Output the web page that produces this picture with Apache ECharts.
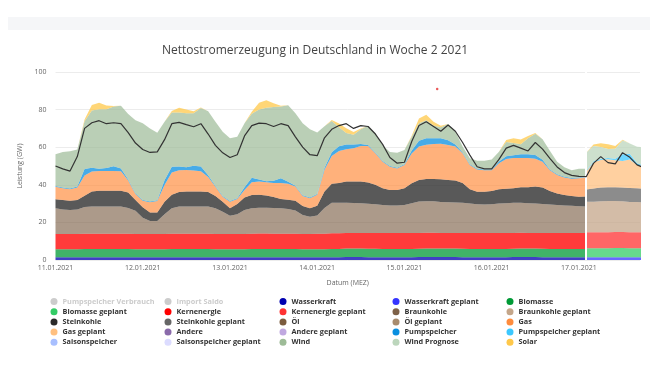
<!DOCTYPE html>
<html><head><meta charset="utf-8">
<script src="https://cdn.jsdelivr.net/npm/echarts@6/dist/echarts.min.js"></script>
<style>html,body{margin:0;padding:0;background:#fff}#c{width:660px;height:366px}</style>
</head><body><div id="c"></div>
<script>
// ---- time grid (2-hour steps, local time) ----
const START = new Date(2021, 0, 11, 0, 0, 0).getTime();
const AXIS_END = new Date(2021, 0, 17, 16, 48, 0).getTime();
const STEP_MS = 2 * 3600000;
const times = [];
for (let i = 0; i < 82; i++) times.push(START + i * STEP_MS);
const actualTimes = times.slice(0, 74);   // 11.01 00:00 .. 17.01 02:00
const planTimes = times.slice(73, 82);    // 17.01 02:00 .. 17.01 18:00

// ---- actual generation (GW), 12 values per day ----
const wasserkraft = [
 1.4,1.4,1.4,1.4,1.5,1.5,1.5,1.5,1.5,1.5,1.5,1.4,
 1.4,1.4,1.4,1.4,1.5,1.5,1.5,1.5,1.5,1.5,1.4,1.4,
 1.4,1.4,1.4,1.5,1.5,1.5,1.5,1.5,1.5,1.5,1.4,1.4,
 1.4,1.4,1.5,1.5,1.6,1.6,1.6,1.5,1.5,1.5,1.5,1.5,
 1.5,1.5,1.6,1.6,1.6,1.6,1.6,1.6,1.5,1.5,1.5,1.5,
 1.5,1.5,1.5,1.6,1.6,1.6,1.6,1.5,1.5,1.5,1.5,1.5,
 1.5,1.5];
const biomasse = [
 4.3,4.3,4.3,4.3,4.4,4.4,4.4,4.4,4.4,4.4,4.3,4.3,
 4.3,4.3,4.3,4.3,4.4,4.4,4.4,4.4,4.4,4.4,4.3,4.3,
 4.3,4.3,4.3,4.4,4.4,4.4,4.4,4.4,4.4,4.3,4.3,4.3,
 4.3,4.3,4.4,4.4,4.5,4.5,4.5,4.5,4.5,4.4,4.4,4.4,
 4.4,4.4,4.4,4.5,4.5,4.5,4.5,4.5,4.5,4.4,4.4,4.4,
 4.4,4.4,4.4,4.4,4.5,4.5,4.5,4.5,4.4,4.4,4.4,4.4,
 4.4,4.4];
const kernenergie = [
 8.1,8.1,8.1,8.1,8.1,8.0,8.0,8.0,8.0,8.1,8.1,8.1,
 8.1,8.1,8.1,8.1,8.1,8.1,8.0,8.0,8.1,8.1,8.1,8.1,
 8.1,8.1,8.1,8.1,8.2,8.2,8.1,8.1,8.1,8.1,8.1,8.1,
 8.2,8.3,8.3,8.3,8.3,8.3,8.3,8.4,8.4,8.4,8.4,8.4,
 8.4,8.4,8.4,8.4,8.4,8.3,8.3,8.3,8.4,8.4,8.4,8.4,
 8.4,8.4,8.4,8.4,8.4,8.3,8.3,8.3,8.4,8.4,8.4,8.4,
 8.4,8.4];
const braunkohle = [
 13.7,13.1,12.8,13.1,14.2,14.5,14.5,14.5,14.5,14.5,13.7,12.4,
 8.7,6.9,6.9,10.6,13.5,14.5,14.5,14.5,14.5,14.5,13.7,11.9,
 9.8,10.6,12.8,13.5,13.7,13.7,13.7,13.5,13.1,12.4,10.1,9.2,
 9.8,13.7,16.3,16.2,16.0,15.9,15.8,15.5,15.2,14.9,14.7,14.7,
 15.0,15.9,16.7,16.7,16.7,16.5,16.3,16.2,16.1,15.7,15.3,15.2,
 15.3,15.7,15.9,16.0,15.9,15.8,15.7,15.5,15.2,14.9,14.7,14.5,
 14.3,14.2];
const steinkohle = [
 4.8,5.0,4.9,5.0,6.0,8.0,8.4,8.4,8.4,8.4,8.3,5.7,
 5.5,4.6,4.5,6.6,7.2,7.7,8.0,8.0,8.0,7.7,6.5,5.3,
 3.9,5.4,6.7,7.1,6.9,6.5,5.8,4.9,5.0,5.2,4.8,4.5,
 5.1,8.8,10.1,10.6,11.3,11.4,11.5,11.3,10.4,8.9,8.2,8.2,
 8.8,10.6,11.5,11.9,11.9,12.1,11.9,11.7,10.4,7.6,6.7,6.8,
 7.1,7.6,7.7,7.8,8.3,8.5,9.0,8.7,7.2,6.2,5.6,5.2,
 5.1,5.3];
const gas = [
 6.7,6.2,6.1,6.7,10.7,10.7,10.6,10.6,10.6,10.3,6.4,3.2,
 3.5,5.4,6.2,8.9,11.9,11.5,11.5,11.2,10.7,7.9,5.0,2.7,
 3.5,2.7,3.9,6.7,7.1,7.1,7.5,8.6,8.5,7.6,5.3,5.3,
 5.9,11.5,14.7,17.0,17.2,17.8,19.0,19.5,16.8,14.2,12.4,11.5,
 12.4,15.9,17.8,18.2,18.6,18.8,18.6,18.1,15.9,12.9,11.9,11.5,
 11.1,13.8,15.8,16.0,15.6,15.6,14.7,13.8,11.1,9.8,9.3,9.2,
 9.8,9.9];
const pumpspeicher = [
 0.4,0.4,0.4,0.5,3.5,2.0,1.2,1.5,2.5,1.5,0.5,0.4,
 0.4,0.4,0.4,2.5,3.0,2.0,1.5,2.5,2.5,1.0,0.4,0.4,
 0.4,0.4,1.5,2.5,1.0,0.5,1.2,2.5,1.0,0.4,0.4,0.4,
 0.4,1.0,2.0,2.5,2.5,2.0,1.0,0.5,0.4,0.4,0.4,0.4,
 0.4,1.5,3.0,3.5,3.0,3.0,2.5,1.0,0.4,0.4,0.4,0.4,
 0.4,1.0,1.5,1.5,2.0,2.0,2.0,1.0,0.4,0.4,0.4,0.4,
 0.4,0.4];
const wind = [
 16.8,18.9,19.9,19.7,25.4,30.4,31.6,31.3,31.7,33.4,34.9,38.9,
 40.8,38.9,35.9,31.2,28.9,28.8,28.7,28.0,31.2,34.0,34.2,34.1,
 33.3,32.7,34.0,34.0,37.3,39.1,39.2,38.2,40.7,38.6,38.3,36.3,
 32.7,22.1,16.7,10.1,6.2,5.1,7.9,10.2,10.3,8.4,7.4,8.0,
 7.6,7.4,9.4,9.5,6.8,5.8,8.7,6.9,3.2,3.2,4.2,4.6,
 5.3,5.2,7.6,6.6,5.3,8.5,11.4,10.9,9.9,6.7,5.0,4.2,
 4.6,4.5];
const solar = [
 0,0,0,0,1.0,3.0,3.5,2.0,0.3,0,0,0,
 0,0,0,0,0.8,2.5,2.0,1.0,0.2,0,0,0,
 0,0,0,1.0,3.5,4.0,2.0,0.3,0,0,0,0,
 0,0,0.5,2.0,2.5,1.5,0.3,0,0,0,0,0,
 0,0.5,2.5,3.0,2.0,0.8,0,0,0,0,0,0,
 0,0,1.0,2.5,2.5,1.2,0.3,0,0,0,0,0,
 0,0];
// black line (load), actual part
const lastActual = [
 50.0,48.5,47.3,55.0,70.0,73.0,74.1,72.5,73.0,72.5,67.8,62.2,
 58.8,57.2,57.5,64.0,72.5,73.2,72.0,70.9,72.5,67.0,61.0,57.0,
 54.5,56.0,66.0,71.5,72.8,72.5,71.0,72.5,71.5,65.5,60.0,56.0,
 55.5,65.0,69.5,71.5,72.5,70.0,71.5,71.0,67.0,61.5,54.5,51.5,
 52.0,63.0,71.5,73.5,71.0,68.5,71.8,68.5,62.5,55.8,49.6,48.5,
 48.5,53.5,59.5,61.0,59.5,58.0,62.5,59.0,54.0,49.5,46.5,45.0,
 44.5,44.3];

// ---- planned / forecast (17.01 02:00 .. 18:00) ----
const wasserkraftPlan = [1.4,1.4,1.4,1.5,1.5,1.5,1.4,1.4,1.4];
const biomassePlan    = [4.8,4.8,4.8,4.8,4.9,4.9,4.8,4.8,4.8];
const kernenergiePlan = [8.5,8.5,8.5,8.5,8.5,8.5,8.5,8.5,8.5];
const braunkohlePlan  = [16.3,16.3,16.5,16.6,16.5,16.3,16.1,16.1,15.9];
const steinkohlePlan  = [6.5,7.0,7.3,7.3,7.3,7.4,7.5,7.4,7.4];
const gasPlan         = [9.5,14.0,14.7,14.9,14.3,14.1,15.2,12.3,11.5];
const pumpPlan        = [0.5,0.5,0.5,0.6,0.8,3.5,3.0,1.0,0.6];
const windPrognose    = [9.5,8.2,6.4,4.9,5.4,7.3,5.5,8.8,9.9];
const solarPlan       = [0,0.8,2.0,2.5,1.5,0.5,0,0,0];
const lastPlan        = [44.3,51.4,55.0,51.8,51.1,57.1,54.6,50.6,49.0];

const strayPoint = [[new Date(2021, 0, 15, 9, 0).getTime(), 91]];

const yTicks = [0, 20, 40, 60, 80, 100];

const legendCols = [
 ['Pumpspeicher Verbrauch','Biomasse geplant','Steinkohle','Gas geplant','Saisonspeicher'],
 ['Import Saldo','Kernenergie','Steinkohle geplant','Andere','Saisonspeicher geplant'],
 ['Wasserkraft','Kernenergie geplant','Öl','Andere geplant','Wind'],
 ['Wasserkraft geplant','Braunkohle','Öl geplant','Pumpspeicher','Wind Prognose'],
 ['Biomasse','Braunkohle geplant','Gas','Pumpspeicher geplant','Solar']
];

const COLORS = {
 'Pumpspeicher Verbrauch':'#7fa7d8','Import Saldo':'#999999',
 'Wasserkraft':'#0000b0','Wasserkraft geplant':'#3535ff',
 'Biomasse':'#009a36','Biomasse geplant':'#33cc66',
 'Kernenergie':'#ff0000','Kernenergie geplant':'#ff3333',
 'Braunkohle':'#7d6148','Braunkohle geplant':'#c4a68a',
 'Steinkohle':'#2a2a2a','Steinkohle geplant':'#666666',
 'Öl':'#7b5c3e','Öl geplant':'#a88c6e',
 'Gas':'#ff8c3c','Gas geplant':'#ffc080',
 'Andere':'#8a6aaa','Andere geplant':'#c0a8e0',
 'Pumpspeicher':'#0a8fe0','Pumpspeicher geplant':'#3cc8ff',
 'Saisonspeicher':'#a8bfff','Saisonspeicher geplant':'#dcdcff',
 'Wind':'#9dbb97','Wind Prognose':'#bcd6bc','Solar':'#ffc84a'
};

function pairs(ts, vals) { return vals.map((v, i) => [ts[i], v]); }
function area(name, vals, ts, stack, op) {
  return { name, type:'line', stack, data: pairs(ts, vals), symbol:'none', showSymbol:false,
    lineStyle:{width:0}, itemStyle:{color:COLORS[name]},
    areaStyle:{color:COLORS[name], opacity:op}, emphasis:{disabled:true}, z:2, silent:true };
}
function empty(name) {
  return { name, type:'line', data:[], symbol:'none', itemStyle:{color:COLORS[name]}, lineStyle:{width:0} };
}

const series = [
  empty('Pumpspeicher Verbrauch'), empty('Import Saldo'),
  area('Wasserkraft', wasserkraft, actualTimes, 'ist', 0.75),
  area('Biomasse', biomasse, actualTimes, 'ist', 0.75),
  area('Kernenergie', kernenergie, actualTimes, 'ist', 0.77),
  area('Braunkohle', braunkohle, actualTimes, 'ist', 0.64),
  area('Steinkohle', steinkohle, actualTimes, 'ist', 0.78),
  empty('Öl'),
  area('Gas', gas, actualTimes, 'ist', 0.68),
  empty('Andere'),
  area('Pumpspeicher', pumpspeicher, actualTimes, 'ist', 0.75),
  empty('Saisonspeicher'),
  area('Wind', wind, actualTimes, 'ist', 0.7),
  area('Solar', solar, actualTimes, 'ist', 0.75),
  area('Wasserkraft geplant', wasserkraftPlan, planTimes, 'plan', 0.75),
  area('Biomasse geplant', biomassePlan, planTimes, 'plan', 0.75),
  area('Kernenergie geplant', kernenergiePlan, planTimes, 'plan', 0.75),
  area('Braunkohle geplant', braunkohlePlan, planTimes, 'plan', 0.75),
  area('Steinkohle geplant', steinkohlePlan, planTimes, 'plan', 0.75),
  empty('Öl geplant'),
  area('Gas geplant', gasPlan, planTimes, 'plan', 0.75),
  empty('Andere geplant'),
  area('Pumpspeicher geplant', pumpPlan, planTimes, 'plan', 0.75),
  empty('Saisonspeicher geplant'),
  Object.assign(area('Wind Prognose', windPrognose, planTimes, 'plan', 0.75), {
    z:3,
    markLine:{ silent:true, symbol:['none','none'], label:{show:false},
      lineStyle:{color:'#ffffff', width:2, type:'solid'}, data:[{xAxis: planTimes[0]}] }
  }),
  area('Solar', solarPlan, planTimes, 'plan', 0.75),
  { name:'Last', type:'line', data: pairs(actualTimes, lastActual).concat(pairs(planTimes, lastPlan).slice(1)),
    symbol:'none', showSymbol:false, lineStyle:{color:'#333333', width:1.2}, itemStyle:{color:'#333'}, z:6, silent:true },
  { name:'Punkt', type:'scatter', data: strayPoint, symbolSize:2.5, itemStyle:{color:'#e53030'}, z:6, silent:true }
];

const legendX = [50.5, 164.5, 279.5, 392.5, 506.5];
const legends = legendCols.map((d, i) => ({
  data: d, orient:'vertical', left: legendX[i], top: 298, padding: 0,
  itemWidth: 7, itemHeight: 7, itemGap: 3.2, icon:'circle', inactiveColor:'#cccccc',
  textStyle:{ fontSize: 7.3, fontWeight:'bold', color:'#333', fontFamily:'Open Sans' },
  selected: { 'Pumpspeicher Verbrauch': false, 'Import Saldo': false }
}));

function fmtDate(v) {
  const d = new Date(v);
  const p = n => (n < 10 ? '0' : '') + n;
  return p(d.getDate()) + '.' + p(d.getMonth() + 1) + '.' + d.getFullYear();
}

const chart = echarts.init(document.getElementById('c'), null, {renderer:'canvas'});
chart.setOption({
  animation: false,
  backgroundColor: '#ffffff',
  graphic: [{ type:'rect', left: 8, top: 17, shape:{ width: 642, height: 13 }, style:{ fill:'#f5f6f8' }, silent:true }],
  title: { text:'Nettostromerzeugung in Deutschland in Woche 2 2021', left: 157, top: 40,
    textStyle:{ fontSize: 12, fontWeight:'normal', color:'#444', fontFamily:'Open Sans' } },
  legend: legends,
  grid: { left: 55.5, right: 20, top: 72, bottom: 106, outerBoundsMode:'none', containLabel:false },
  xAxis: { type:'time', min: START, max: AXIS_END, minInterval: 86400000, maxInterval: 86400000,
    name:'Datum (MEZ)', nameLocation:'middle', nameGap: 19,
    nameTextStyle:{ fontSize: 7, color:'#666', fontFamily:'Open Sans' },
    axisLine:{show:false}, axisTick:{show:false}, splitLine:{show:false},
    axisLabel:{ formatter: fmtDate, fontSize: 7, color:'#666', fontFamily:'Open Sans', margin: 4,
      showMaxLabel:false, hideOverlap:false } },
  yAxis: { type:'value', min: yTicks[0], max: yTicks[yTicks.length-1], interval: yTicks[1]-yTicks[0],
    name:'Leistung (GW)', nameLocation:'middle', nameGap: 25,
    nameTextStyle:{ fontSize: 7, color:'#666', fontFamily:'Open Sans' },
    axisLine:{show:false}, axisTick:{show:false},
    splitLine:{ lineStyle:{ color:'#ececec', width:1 } },
    axisLabel:{ fontSize: 7, color:'#666', fontFamily:'Open Sans', margin: 9 } },
  series
});
</script></body></html>
